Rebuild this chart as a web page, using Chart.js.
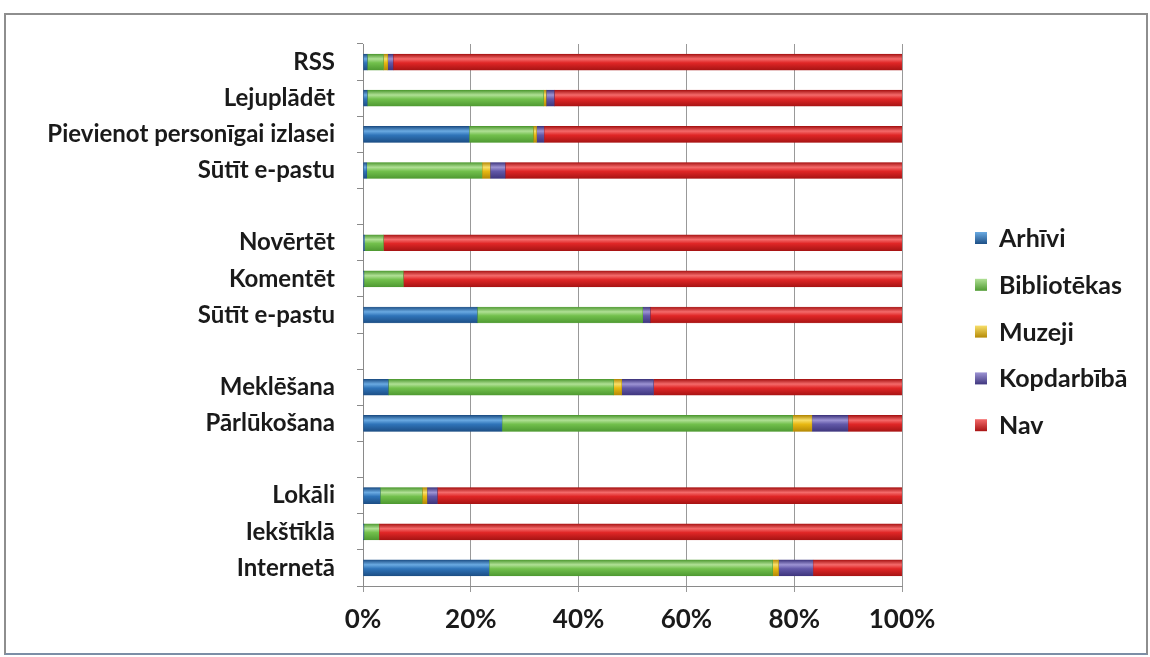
<!DOCTYPE html>
<html>
<head>
<meta charset="utf-8">
<script src="https://cdn.jsdelivr.net/npm/chart.js@4"></script>
<style>
  body { margin: 0; background: #fff; }
  #wrap { position: relative; width: 1150px; height: 657px; }
  #frame {
    position: absolute; left: 4px; top: 13px; width: 1140px; height: 638px;
    border: 2px solid #8e8e8e; border-bottom-color: #7c8ea6;
  }
  canvas { position: absolute; left: 0; top: 0; }
</style>
</head>
<body>
<div id="wrap">
  <div id="frame"></div>
  <canvas id="c" width="1150" height="657"></canvas>
</div>
<script>
// ==============================
// data (percent, top row first)
// ==============================
const categories = [
  "RSS", "Lejupl\u0101d\u0113t", "Pievienot person\u012bgai izlasei", "S\u016bt\u012bt e-pastu", "",
  "Nov\u0113rt\u0113t", "Koment\u0113t", "S\u016bt\u012bt e-pastu", "",
  "Mekl\u0113\u0161ana", "P\u0101rl\u016bko\u0161ana", "",
  "Lok\u0101li", "Iek\u0161t\u012bkl\u0101", "Internet\u0101"
];
const arhivi      = [0.8, 0.8, 19.7, 0.7, null, 0.3, 0.2, 21.2, null, 4.7, 25.8, null, 3.2, 0.2, 23.4];
const biblotekas  = [3.0, 32.7, 11.9, 21.4, null, 3.5, 7.3, 30.7, null, 41.8, 53.9, null, 7.8, 2.8, 52.6];
const muzeji      = [0.8, 0.5, 0.6, 1.5, null, 0, 0, 0, null, 1.5, 3.6, null, 0.9, 0, 1.1];
const kopdarbiba  = [1.0, 1.5, 1.4, 2.8, null, 0, 0, 1.4, null, 5.9, 6.7, null, 1.9, 0, 6.4];
const nav         = [94.4, 64.5, 66.4, 73.6, null, 96.2, 92.5, 46.7, null, 46.1, 10.0, null, 86.2, 97.0, 16.5];
const seriesNames = ["Arh\u012bvi", "Bibliot\u0113kas", "Muzeji", "Kopdarb\u012bb\u0101", "Nav"];
const xTicks = [0, 20, 40, 60, 80, 100];

// colours: [dark edge, base, highlight]
const palette = [
  ["#1d4f86", "#2f74b9", "#6aaae2"],
  ["#4f9a32", "#72c04c", "#b0e095"],
  ["#b58a06", "#e8b812", "#f8df6a"],
  ["#3f367e", "#6258a8", "#9d94d4"],
  ["#a81414", "#e02626", "#f46a6a"]
];

const FONT = "Lato, 'Liberation Sans', sans-serif";

function barFill(i) {
  return (ctx) => {
    const chart = ctx.chart;
    const c = palette[i];
    if (!chart.chartArea || ctx.dataIndex === undefined) return c[1];
    const y = chart.scales.y.getPixelForValue(ctx.dataIndex);
    const g = chart.ctx.createLinearGradient(0, y - 8, 0, y + 8);
    g.addColorStop(0, c[0]);
    g.addColorStop(0.3, c[2]);
    g.addColorStop(0.55, c[1]);
    g.addColorStop(1, c[0]);
    return g;
  };
}

// ==============================
// legend plugin
// ==============================
const legendPlugin = {
  id: "sideLegend",
  afterDraw(chart) {
    const ctx = chart.ctx;
    ctx.save();
    ctx.font = "bold 25px " + FONT;
    ctx.textBaseline = "middle";
    ctx.textAlign = "left";
    seriesNames.forEach((name, i) => {
      const y = 238 + i * 46.8;
      const c = palette[i];
      const g = ctx.createLinearGradient(0, y - 6, 0, y + 6);
      g.addColorStop(0, c[2]);
      g.addColorStop(1, c[0]);
      ctx.fillStyle = g;
      ctx.fillRect(975, y - 6, 12, 12);
      ctx.fillStyle = "#1a1a1a";
      ctx.fillText(name, 999, y + 1);
    });
    ctx.restore();
  }
};

const datasets = seriesNames.map((name, i) => ({
  label: name,
  data: [arhivi, biblotekas, muzeji, kopdarbiba, nav][i],
  backgroundColor: barFill(i),
  borderColor: palette[i][0],
  borderWidth: 0.5,
  borderSkipped: false,
  barThickness: 16
}));

new Chart(document.getElementById("c"), {
  type: "bar",
  data: { labels: categories, datasets },
  options: {
    indexAxis: "y",
    responsive: false,
    animation: false,
    layout: { padding: { left: 0, top: 44, right: 248, bottom: 0 } },
    plugins: {
      legend: { display: false },
      tooltip: { enabled: false }
    },
    scales: {
      x: {
        stacked: true,
        min: 0,
        max: 100,
        afterBuildTicks(scale) {
          scale.ticks = xTicks.map((v) => ({ value: v }));
        },
        afterFit(scale) { scale.height = 71; },
        ticks: {
          callback: (v) => v + "%",
          color: "#1a1a1a",
          font: { family: FONT, size: 26, weight: "bold" },
          padding: 12
        },
        grid: { color: "#999999", lineWidth: 1, tickLength: 6, drawOnChartArea: true },
        border: { display: true, color: "#8a8a8a" }
      },
      y: {
        stacked: true,
        afterFit(scale) { scale.width = 363; },
        ticks: {
          autoSkip: false,
          color: "#1a1a1a",
          font: { family: FONT, size: 24, weight: "bold" },
          padding: 22
        },
        grid: { offset: true, drawOnChartArea: false, tickLength: 6, color: "#8a8a8a" },
        border: { display: true, color: "#8a8a8a" }
      }
    }
  },
  plugins: [legendPlugin]
});
</script>
</body>
</html>
